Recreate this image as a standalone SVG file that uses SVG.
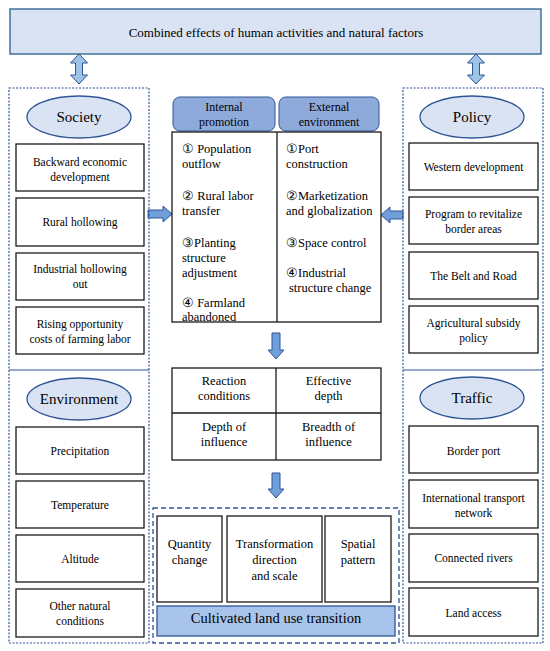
<svg xmlns="http://www.w3.org/2000/svg" width="550" height="651" viewBox="0 0 550 651" font-family="'Liberation Serif', 'DejaVu Serif', 'Times New Roman', serif">
<style>
text{font-family:'Liberation Serif','DejaVu Serif','Times New Roman',serif;fill:#000;}
.c{text-anchor:middle;}
.box{fill:#fff;stroke:#1a1a1a;stroke-width:1.3;}
.ell{fill:#dae3f3;stroke:#2f5597;stroke-width:1.3;}
.panel{fill:none;stroke:#2f5597;stroke-width:1.2;stroke-dasharray:2 1.5;}
.panel2{fill:none;stroke:#2f5597;stroke-width:1.3;stroke-dasharray:5 3;}
.div{stroke:#2f5597;stroke-width:1.2;}
.tab{fill:#8eaadb;stroke:#2f5597;stroke-width:1;}
.arr{fill:#6e9fd9;stroke:#2f5597;stroke-width:1;}
.darr{fill:#9dc3e6;stroke:#2f5597;stroke-width:1;}
.t11{font-size:11.5px;}
.t12{font-size:12.5px;}
.t15{font-size:15px;}
.line{stroke:#1a1a1a;stroke-width:1.3;}
</style>
<rect width="550" height="651" fill="#fff"/>

<g id="banner">
<rect x="10" y="9" width="531" height="45" fill="#dae3f3" stroke="#41719c" stroke-width="1.5"/>
<text x="276" y="37" class="c" font-size="13">Combined effects of human activities and natural factors</text>
</g>

<g id="connectors">
<path class="darr" d="M79,54 L87.5,63 L82.5,63 L82.5,75 L87.5,75 L79,84 L70.5,75 L75.5,75 L75.5,63 L70.5,63 Z"/>
<path class="darr" d="M476,54 L484.5,63 L479.5,63 L479.5,75 L484.5,75 L476,84 L467.5,75 L472.5,75 L472.5,63 L467.5,63 Z"/>
<path class="arr" d="M148,210 L163,210 L163,206 L172,214 L163,222 L163,218 L148,218 Z"/>
<path class="arr" d="M403,211 L390,211 L390,207 L381,215 L390,223 L390,219 L403,219 Z"/>
<path class="arr" d="M272,333 L280,333 L280,350 L284,350 L276,359 L268,350 L272,350 Z"/>
<path class="arr" d="M272,473 L280,473 L280,489 L284,489 L276,498 L268,489 L272,489 Z"/>
</g>

<g id="left-panel">
<rect class="panel" x="9" y="88" width="140" height="555"/>
<line class="div" x1="9" y1="370" x2="149" y2="370"/>
</g>
<g id="right-panel">
<rect class="panel" x="403" y="88" width="140" height="555"/>
<line class="div" x1="403" y1="370" x2="543" y2="370"/>
</g>

<g id="society">
<ellipse class="ell" cx="79" cy="117" rx="52" ry="21"/>
<text x="79" y="122" class="c t15">Society</text>
</g>
<g id="backward">
<rect class="box" x="16" y="144" width="128" height="47"/>
<text x="80" y="166" class="c t11">Backward economic</text>
<text x="80" y="181" class="c t11">development</text>
</g>
<g id="rural-hollowing">
<rect class="box" x="16" y="198" width="128" height="48"/>
<text x="80" y="226" class="c t11">Rural hollowing</text>
</g>
<g id="industrial-hollowing">
<rect class="box" x="16" y="253" width="128" height="47"/>
<text x="80" y="273" class="c t11">Industrial  hollowing</text>
<text x="80" y="288" class="c t11">out</text>
</g>
<g id="rising-costs">
<rect class="box" x="16" y="307" width="128" height="47"/>
<text x="80" y="328" class="c t11">Rising  opportunity</text>
<text x="80" y="343" class="c t11">costs of farming  labor</text>
</g>

<g id="environment">
<ellipse class="ell" cx="79" cy="399" rx="52" ry="21"/>
<text x="79" y="404" class="c t15">Environment</text>
</g>
<g id="precipitation">
<rect class="box" x="16" y="427" width="128" height="47"/>
<text x="80" y="455" class="c t11">Precipitation</text>
</g>
<g id="temperature">
<rect class="box" x="16" y="481" width="128" height="47"/>
<text x="80" y="509" class="c t11">Temperature</text>
</g>
<g id="altitude">
<rect class="box" x="16" y="535" width="128" height="47"/>
<text x="80" y="563" class="c t11">Altitude</text>
</g>
<g id="other-natural">
<rect class="box" x="16" y="589" width="128" height="48"/>
<text x="80" y="610" class="c t11">Other natural</text>
<text x="80" y="625" class="c t11">conditions</text>
</g>

<g id="policy">
<ellipse class="ell" cx="472" cy="117" rx="52" ry="21"/>
<text x="472" y="122" class="c t15">Policy</text>
</g>
<g id="western">
<rect class="box" x="409" y="143" width="129" height="47"/>
<text x="473.5" y="171" class="c t11">Western development</text>
</g>
<g id="program">
<rect class="box" x="409" y="197" width="129" height="47"/>
<text x="473.5" y="218" class="c t11">Program to revitalize</text>
<text x="473.5" y="233" class="c t11">border areas</text>
</g>
<g id="belt-road">
<rect class="box" x="409" y="252" width="129" height="47"/>
<text x="473.5" y="280" class="c t11">The Belt and Road</text>
</g>
<g id="subsidy">
<rect class="box" x="409" y="306" width="129" height="47"/>
<text x="473.5" y="327" class="c t11">Agricultural  subsidy</text>
<text x="473.5" y="342" class="c t11">policy</text>
</g>

<g id="traffic">
<ellipse class="ell" cx="472" cy="398" rx="52" ry="21"/>
<text x="472" y="403" class="c t15">Traffic</text>
</g>
<g id="border-port">
<rect class="box" x="409" y="426" width="129" height="47"/>
<text x="473.5" y="455" class="c t11">Border port</text>
</g>
<g id="transport">
<rect class="box" x="409" y="480" width="129" height="48"/>
<text x="473.5" y="502" class="c t11">International  transport</text>
<text x="473.5" y="517" class="c t11">network</text>
</g>
<g id="rivers">
<rect class="box" x="409" y="534" width="129" height="48"/>
<text x="473.5" y="562" class="c t11">Connected rivers</text>
</g>
<g id="land-access">
<rect class="box" x="409" y="588" width="129" height="48"/>
<text x="473.5" y="617" class="c t11">Land access</text>
</g>

<g id="internal-tab">
<rect class="tab" x="173" y="97" width="102" height="34" rx="7"/>
<text x="224" y="111" class="c" font-size="12">Internal</text>
<text x="224" y="126" class="c" font-size="12">promotion</text>
</g>
<g id="external-tab">
<rect class="tab" x="279" y="97" width="100" height="34" rx="7"/>
<text x="329" y="111" class="c" font-size="12">External</text>
<text x="329" y="126" class="c" font-size="12">environment</text>
</g>

<g id="factors-table">
<rect class="box" x="172" y="132" width="209" height="190"/>
<line class="line" x1="277" y1="132" x2="277" y2="322"/>
<text x="182" y="153" class="t12">① Population</text>
<text x="182" y="168" class="t12">outflow</text>
<text x="182" y="200" class="t12">② Rural  labor</text>
<text x="182" y="215" class="t12">transfer</text>
<text x="182" y="247" class="t12">③Planting</text>
<text x="182" y="262" class="t12">structure</text>
<text x="182" y="277" class="t12">adjustment</text>
<text x="182" y="307" class="t12">④ Farmland</text>
<text x="182" y="321" class="t12">abandoned</text>
<text x="286" y="153" class="t12">①Port</text>
<text x="286" y="168" class="t12">construction</text>
<text x="286" y="200" class="t12">②Marketization</text>
<text x="286" y="215" class="t12">and globalization</text>
<text x="286" y="247" class="t12">③Space control</text>
<text x="286" y="277" class="t12">④Industrial</text>
<text x="289" y="292" class="t12">structure change</text>
</g>

<g id="conditions-table">
<rect class="box" x="172" y="368" width="209" height="92"/>
<line class="line" x1="276" y1="368" x2="276" y2="460"/>
<line class="line" x1="172" y1="413" x2="381" y2="413"/>
<text x="224" y="385" class="c t12">Reaction</text>
<text x="224" y="400" class="c t12">conditions</text>
<text x="328.5" y="385" class="c t12">Effective</text>
<text x="328.5" y="400" class="c t12">depth</text>
<text x="224" y="431" class="c t12">Depth of</text>
<text x="224" y="446" class="c t12">influence</text>
<text x="328.5" y="431" class="c t12">Breadth of</text>
<text x="328.5" y="446" class="c t12">influence</text>
</g>

<g id="transition-panel">
<rect class="panel2" x="153" y="508" width="246" height="135"/>
</g>
<g id="quantity">
<rect class="box" x="157" y="516" width="65" height="86"/>
<text x="189.5" y="548" class="c t12">Quantity</text>
<text x="189.5" y="564" class="c t12">change</text>
</g>
<g id="direction">
<rect class="box" x="227" y="516" width="95" height="86"/>
<text x="274.5" y="548" class="c t12">Transformation</text>
<text x="274.5" y="564" class="c t12">direction</text>
<text x="274.5" y="580" class="c t12">and scale</text>
</g>
<g id="spatial">
<rect class="box" x="325" y="516" width="66" height="86"/>
<text x="358" y="548" class="c t12">Spatial</text>
<text x="358" y="564" class="c t12">pattern</text>
</g>
<g id="transition">
<rect x="157" y="606" width="238" height="30" fill="#a9c4ea" stroke="#2f5597" stroke-width="1.3"/>
<text x="276" y="623" class="c" font-size="14.5">Cultivated land use transition</text>
</g>
</svg>
